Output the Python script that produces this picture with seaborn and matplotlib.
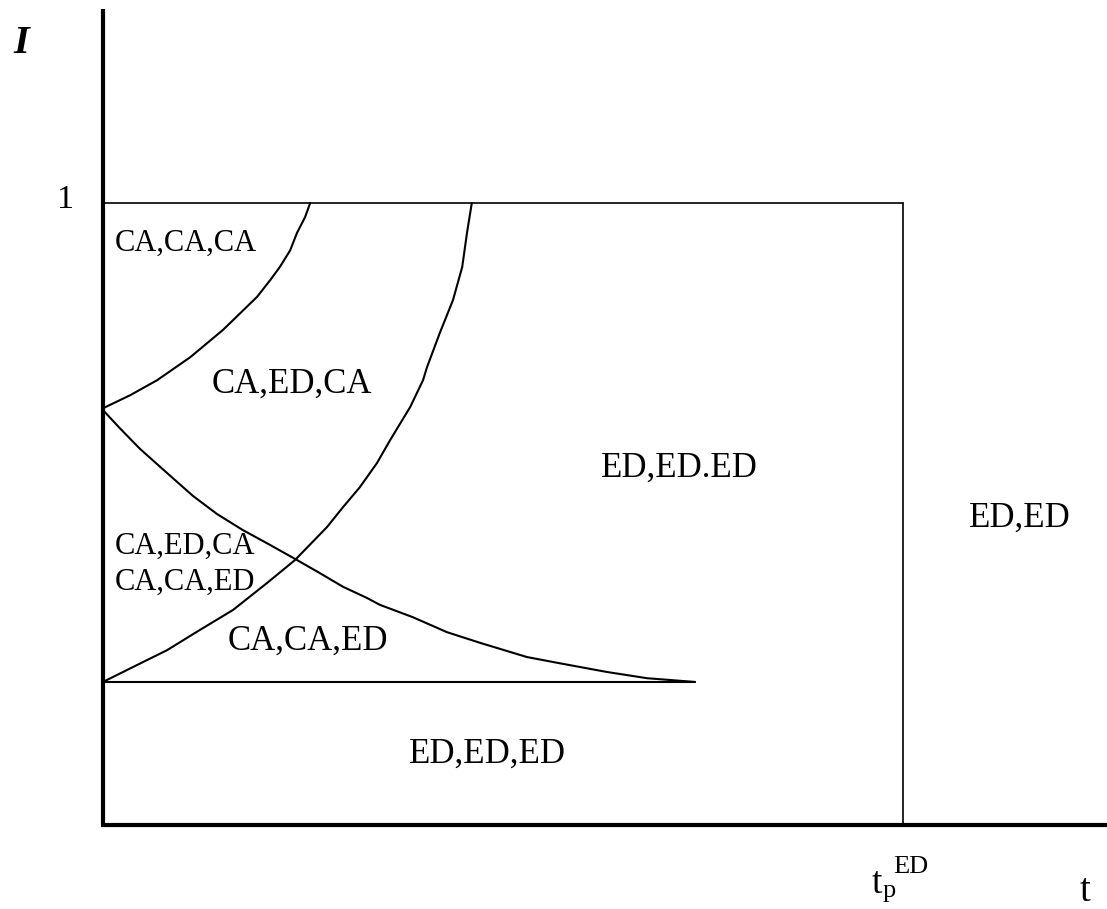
import matplotlib
matplotlib.use("Agg")
import matplotlib.pyplot as plt
import seaborn as sns
import pandas as pd

# ---- data (t normalised so that t_p^ED = 1, I normalised so that top = 1) ----
t_upper = [0.0, 0.034, 0.0675, 0.109, 0.150, 0.1925, 0.209, 0.221, 0.234, 0.2425, 0.2525, 0.259]
i_upper = [0.670, 0.691, 0.715, 0.752, 0.796, 0.849, 0.876, 0.897, 0.924, 0.952, 0.977, 1.0]

t_rise = [0.0, 0.0375, 0.080, 0.121, 0.1625, 0.205, 0.240, 0.280, 0.300, 0.321, 0.3425, 0.359,
          0.384, 0.400, 0.405, 0.421, 0.4375, 0.449, 0.455, 0.461]
i_rise = [0.230, 0.254, 0.281, 0.3135, 0.3457, 0.389, 0.426, 0.479, 0.511, 0.543, 0.582, 0.619,
          0.672, 0.715, 0.736, 0.791, 0.844, 0.897, 0.952, 1.0]

t_fall = [0.0, 0.021, 0.046, 0.080, 0.1125, 0.1425, 0.175, 0.205, 0.2425, 0.271, 0.300, 0.330,
          0.346, 0.3875, 0.430, 0.471, 0.530, 0.571, 0.630, 0.680, 0.740]
i_fall = [0.667, 0.638, 0.605, 0.566, 0.529, 0.500, 0.474, 0.453, 0.426, 0.405, 0.383, 0.365,
          0.354, 0.334, 0.310, 0.293, 0.270, 0.260, 0.246, 0.236, 0.230]

t_flat = [0.0, 0.740]
i_flat = [0.230, 0.230]

region_labels = ["CA,CA,CA", "CA,ED,CA", "ED,ED.ED", "ED,ED", "CA,ED,CA", "CA,CA,ED", "CA,CA,ED", "ED,ED,ED"]
label_t = [0.015, 0.136, 0.6225, 1.0825, 0.015, 0.015, 0.156, 0.3825]
label_i = [0.9228, 0.6945, 0.5595, 0.4791, 0.4357, 0.3778, 0.2814, 0.0997]
label_big = [False, True, True, True, False, False, True, True]

sns.set_theme(style="white")
plt.rcParams["font.family"] = ["Liberation Serif", "DejaVu Serif"]
plt.rcParams["text.color"] = "black"

W, H = 1107, 909
fig = plt.figure(figsize=(W / 100, H / 100), dpi=100)
ax = fig.add_axes([0, 0, 1, 1])
x0, xs = 103, 800
y0, ys = 825, 622
ax.set_xlim(-x0 / xs, (W - x0) / xs)
ax.set_ylim((y0 - H) / ys, y0 / ys)
ax.axis("off")

curves = [(t_upper, i_upper), (t_rise, i_rise), (t_fall, i_fall), (t_flat, i_flat)]
for tt, ii in curves:
    df = pd.DataFrame({"t": tt, "I": ii})
    sns.lineplot(data=df, x="t", y="I", sort=False, estimator=None, color="black",
                 linewidth=1.5, ax=ax)

# box: top edge at I=1, right edge at t_p^ED
ax.plot([0, 1], [1, 1], color="black", linewidth=1.2)
ax.plot([1, 1], [0, 1], color="black", linewidth=1.2)

# axes
ax.plot([0, 0], [0, (y0 - 9) / ys], color="black", linewidth=3, solid_capstyle="butt")
ax.plot([-0.002, (W - x0) / xs], [0, 0], color="black", linewidth=3, solid_capstyle="butt")

for lab, tx, iy, big in zip(region_labels, label_t, label_i, label_big):
    ax.text(tx, iy, lab, fontsize=25 if big else 22, ha="left", va="baseline", color="black")

ax.text(-0.0575, (y0 - 208) / ys, "1", fontsize=24.5, ha="left", va="baseline", color="black")
ax.text(-0.1125, (y0 - 53) / ys, "I", fontsize=29, fontstyle="italic", fontweight="bold",
        ha="left", va="baseline", color="black")
# t_p^ED tick label
ax.text(0.9605, (y0 - 893) / ys, "t", fontsize=27, ha="left", va="baseline", color="black")
ax.text(0.974, (y0 - 897) / ys, "p", fontsize=19, ha="left", va="baseline", color="black")
ax.text(0.9875, (y0 - 873) / ys, "ED", fontsize=19, ha="left", va="baseline", color="black")
# axis label
ax.text(1.221, (y0 - 901) / ys, "t", fontsize=28, ha="left", va="baseline", color="black")

fig.savefig("out.png", dpi=100)
